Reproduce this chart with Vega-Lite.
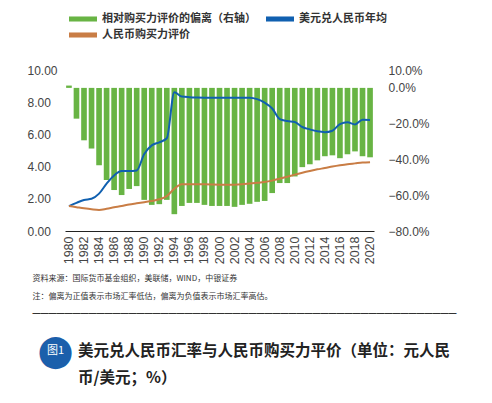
{
  "$schema": "https://vega.github.io/schema/vega-lite/v6.json",
  "width": 309,
  "height": 161,
  "autosize": {"type": "none"},
  "padding": {"left": 65, "top": 70, "right": 118, "bottom": 172},
  "background": "white",
  "config": {"view": {"stroke": null}, "font": "Liberation Sans"},
  "data": {"values": [
    {"year": 1980, "rate": 1.55, "ppp": 1.55, "dev": 1.3},
    {"year": 1981, "rate": 1.75, "ppp": 1.48, "dev": -17.2},
    {"year": 1982, "rate": 1.93, "ppp": 1.41, "dev": -29.3},
    {"year": 1983, "rate": 2.00, "ppp": 1.35, "dev": -33.9},
    {"year": 1984, "rate": 2.32, "ppp": 1.31, "dev": -43.2},
    {"year": 1985, "rate": 2.94, "ppp": 1.38, "dev": -51.5},
    {"year": 1986, "rate": 3.45, "ppp": 1.47, "dev": -57.1},
    {"year": 1987, "rate": 3.72, "ppp": 1.55, "dev": -59.9},
    {"year": 1988, "rate": 3.72, "ppp": 1.65, "dev": -56.5},
    {"year": 1989, "rate": 3.76, "ppp": 1.72, "dev": -54.9},
    {"year": 1990, "rate": 4.78, "ppp": 1.79, "dev": -62.6},
    {"year": 1991, "rate": 5.32, "ppp": 1.86, "dev": -65.4},
    {"year": 1992, "rate": 5.51, "ppp": 1.97, "dev": -65.0},
    {"year": 1993, "rate": 5.76, "ppp": 2.17, "dev": -62.6},
    {"year": 1994, "rate": 8.62, "ppp": 2.62, "dev": -70.6},
    {"year": 1995, "rate": 8.35, "ppp": 2.90, "dev": -66.0},
    {"year": 1996, "rate": 8.31, "ppp": 2.91, "dev": -64.3},
    {"year": 1997, "rate": 8.29, "ppp": 2.91, "dev": -64.3},
    {"year": 1998, "rate": 8.28, "ppp": 2.90, "dev": -65.4},
    {"year": 1999, "rate": 8.28, "ppp": 2.89, "dev": -66.0},
    {"year": 2000, "rate": 8.28, "ppp": 2.88, "dev": -66.0},
    {"year": 2001, "rate": 8.28, "ppp": 2.87, "dev": -66.0},
    {"year": 2002, "rate": 8.28, "ppp": 2.88, "dev": -66.5},
    {"year": 2003, "rate": 8.28, "ppp": 2.91, "dev": -65.4},
    {"year": 2004, "rate": 8.28, "ppp": 2.95, "dev": -64.8},
    {"year": 2005, "rate": 8.19, "ppp": 2.99, "dev": -63.7},
    {"year": 2006, "rate": 7.97, "ppp": 3.04, "dev": -63.2},
    {"year": 2007, "rate": 7.61, "ppp": 3.13, "dev": -58.8},
    {"year": 2008, "rate": 6.95, "ppp": 3.25, "dev": -53.2},
    {"year": 2009, "rate": 6.83, "ppp": 3.37, "dev": -53.2},
    {"year": 2010, "rate": 6.77, "ppp": 3.50, "dev": -49.5},
    {"year": 2011, "rate": 6.46, "ppp": 3.62, "dev": -44.3},
    {"year": 2012, "rate": 6.31, "ppp": 3.73, "dev": -42.7},
    {"year": 2013, "rate": 6.19, "ppp": 3.83, "dev": -40.5},
    {"year": 2014, "rate": 6.14, "ppp": 3.91, "dev": -38.2},
    {"year": 2015, "rate": 6.23, "ppp": 4.00, "dev": -37.7},
    {"year": 2016, "rate": 6.64, "ppp": 4.08, "dev": -39.3},
    {"year": 2017, "rate": 6.75, "ppp": 4.15, "dev": -37.1},
    {"year": 2018, "rate": 6.62, "ppp": 4.20, "dev": -35.5},
    {"year": 2019, "rate": 6.91, "ppp": 4.25, "dev": -38.2},
    {"year": 2020, "rate": 6.90, "ppp": 4.27, "dev": -38.8}
  ]},
  "title": {
    "text": ["美元兑人民币汇率与人民币购买力平价（单位：元人民", "币/美元；%）"],
    "orient": "bottom",
    "anchor": "start",
    "frame": "group",
    "dx": 13,
    "offset": -27,
    "font": "Noto Sans CJK SC",
    "fontSize": 15.5,
    "fontWeight": "bold",
    "color": "#222222",
    "lineHeight": 27,
    "baseline": "top"
  },
  "encoding": {
    "x": {
      "field": "year",
      "type": "ordinal",
      "scale": {"paddingInner": 0.25, "paddingOuter": 0.15},
      "axis": {
        "title": ["　　　\u2002\u2009资料来源：国际货币基金组织，美联储，WIND，中银证券", "　　　\u2002\u2009注：偏离为正值表示市场汇率低估，偏离为负值表示市场汇率高估。", "━━━━━━━━━━━━━━━━━━━━━━━━━━━━━━━━━━━━━━━━━━━━━━━━━━━━━"],
        "titleFont": "Noto Sans CJK SC",
        "titleFontSize": 8,
        "titleFontWeight": "normal",
        "titleColor": "#333333",
        "titleX": -33,
        "titleY": 43,
        "titleAlign": "left",
        "titleBaseline": "top",
        "titleLineHeight": 18.3,
        "labelAngle": -90,
        "labelAlign": "right",
        "labelBaseline": "middle",
        "labelPadding": 5,
        "labelFontSize": 12.5,
        "labelColor": "#444444",
        "labelFont": "Liberation Sans",
        "labelOverlap": false,
        "labelExpr": "datum.value % 2 == 0 ? datum.label : ''",
        "ticks": false,
        "domainColor": "#222222",
        "domainWidth": 1
      }
    }
  },
  "layer": [
    {
      "mark": {"type": "bar"},
      "encoding": {
        "y": {
          "field": "dev",
          "type": "quantitative",
          "scale": {"domain": [-80, 10], "nice": false},
          "axis": {
            "orient": "right",
            "values": [-80, -60, -40, -20, 0, 10],
            "labelExpr": "format(datum.value, '.1f') + '%'",
            "grid": false,
            "ticks": false,
            "domain": false,
            "labelPadding": 14,
            "labelFontSize": 12,
            "labelColor": "#444444",
            "labelOverlap": false,
            "title": "图1",
            "titleX": -319,
            "titleY": 280,
            "titleAngle": 0,
            "titleAlign": "center",
            "titleBaseline": "middle",
            "titleFontSize": 11,
            "titleColor": "white",
            "titleFont": "Noto Sans CJK SC",
            "titleFontWeight": "normal",
            "zindex": 2
          }
        },
        "color": {
          "datum": "相对购买力评价的偏离（右轴）",
          "scale": {
            "domain": ["相对购买力评价的偏离（右轴）", "人民币购买力评价", "美元兑人民币年均"],
            "range": ["#68b444", "#c97d45", "#1060b0"]
          },
          "legend": {
            "orient": "none",
            "legendX": 4,
            "legendY": -58,
            "columns": 2,
            "title": null,
            "symbolType": "M-1,-0.36L3,-0.36L3,0.36L-1,0.36Z",
            "symbolSize": 196,
            "symbolStrokeWidth": 0,
            "labelFont": "Noto Sans CJK SC",
            "labelFontSize": 11,
            "labelFontWeight": "bold",
            "labelColor": "#333333",
            "labelOffset": 19,
            "columnPadding": 10,
            "rowPadding": 4,
            "labelLimit": 300,
            "encode": {
              "symbols": {
                "update": {
                  "fill": {"scale": "color", "field": "value"},
                  "stroke": {"value": "transparent"},
                  "opacity": {"value": 1}
                }
              }
            }
          }
        }
      }
    },
    {
      "layer": [
        {
          "mark": {"type": "line", "interpolate": "monotone", "strokeWidth": 2},
          "encoding": {
            "y": {
              "field": "rate",
              "type": "quantitative",
              "scale": {"domain": [0, 10], "nice": false},
              "axis": {
                "orient": "left",
                "values": [0, 2, 4, 6, 8, 10],
                "format": ".2f",
                "grid": false,
                "ticks": false,
                "domain": false,
                "labelAlign": "left",
                "labelPadding": 38,
                "labelFontSize": 12,
                "labelColor": "#444444",
                "labelBaseline": "middle",
                "labelOverlap": false,
                "title": "●",
                "titleX": -10,
                "titleY": 280,
                "titleAngle": 0,
                "titleAlign": "center",
                "titleBaseline": "middle",
                "titleFontSize": 42,
                "titleColor": "#1b5fab",
                "titleFont": "DejaVu Sans",
                "titleFontWeight": "normal",
                "zindex": 1
              }
            },
            "color": {"datum": "美元兑人民币年均"}
          }
        },
        {
          "mark": {"type": "line", "interpolate": "monotone", "strokeWidth": 2},
          "encoding": {
            "y": {
              "field": "ppp",
              "type": "quantitative",
              "scale": {"domain": [0, 10], "nice": false},
              "axis": {
                "orient": "left",
                "values": [0, 2, 4, 6, 8, 10],
                "format": ".2f",
                "grid": false,
                "ticks": false,
                "domain": false,
                "labelAlign": "left",
                "labelPadding": 38,
                "labelFontSize": 12,
                "labelColor": "#444444",
                "labelBaseline": "middle",
                "labelOverlap": false,
                "title": "●",
                "titleX": -10,
                "titleY": 280,
                "titleAngle": 0,
                "titleAlign": "center",
                "titleBaseline": "middle",
                "titleFontSize": 42,
                "titleColor": "#1b5fab",
                "titleFont": "DejaVu Sans",
                "titleFontWeight": "normal",
                "zindex": 1
              }
            },
            "color": {"datum": "人民币购买力评价"}
          }
        }
      ]
    }
  ],
  "resolve": {"scale": {"y": "independent"}}
}
